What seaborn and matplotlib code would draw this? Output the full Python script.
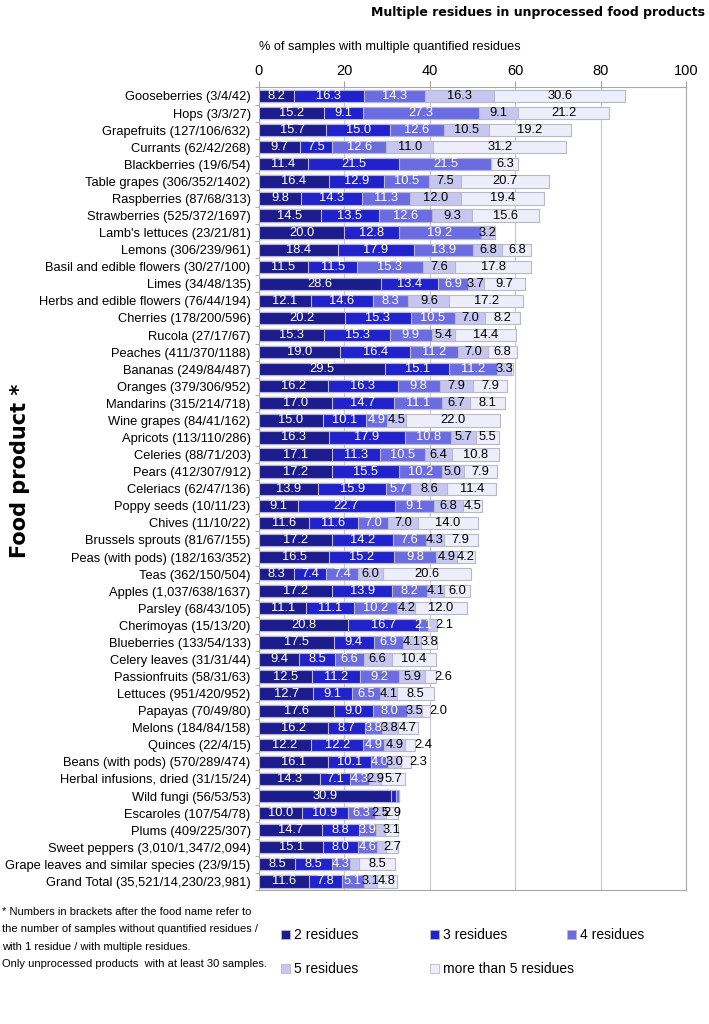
import numpy as np
import pandas as pd
import matplotlib
matplotlib.use("Agg")
import matplotlib.pyplot as plt
from matplotlib.patches import Patch
import seaborn as sns

foods = [
    "Gooseberries (3/4/42)", "Hops (3/3/27)", "Grapefruits (127/106/632)",
    "Currants (62/42/268)", "Blackberries (19/6/54)", "Table grapes (306/352/1402)",
    "Raspberries (87/68/313)", "Strawberries (525/372/1697)", "Lamb's lettuces (23/21/81)",
    "Lemons (306/239/961)", "Basil and edible flowers (30/27/100)", "Limes (34/48/135)",
    "Herbs and edible flowers (76/44/194)", "Cherries (178/200/596)", "Rucola (27/17/67)",
    "Peaches (411/370/1188)", "Bananas (249/84/487)", "Oranges (379/306/952)",
    "Mandarins (315/214/718)", "Wine grapes (84/41/162)", "Apricots (113/110/286)",
    "Celeries (88/71/203)", "Pears (412/307/912)", "Celeriacs (62/47/136)",
    "Poppy seeds (10/11/23)", "Chives (11/10/22)", "Brussels sprouts (81/67/155)",
    "Peas (with pods) (182/163/352)", "Teas (362/150/504)", "Apples (1,037/638/1637)",
    "Parsley (68/43/105)", "Cherimoyas (15/13/20)", "Blueberries (133/54/133)",
    "Celery leaves (31/31/44)", "Passionfruits (58/31/63)", "Lettuces (951/420/952)",
    "Papayas (70/49/80)", "Melons (184/84/158)", "Quinces (22/4/15)",
    "Beans (with pods) (570/289/474)", "Herbal infusions, dried (31/15/24)",
    "Wild fungi (56/53/53)", "Escaroles (107/54/78)", "Plums (409/225/307)",
    "Sweet peppers (3,010/1,347/2,094)", "Grape leaves and similar species (23/9/15)",
    "Grand Total (35,521/14,230/23,981)",
]

res2 = [8.2, 15.2, 15.7, 9.7, 11.4, 16.4, 9.8, 14.5, 20.0, 18.4, 11.5, 28.6, 12.1, 20.2,
        15.3, 19.0, 29.5, 16.2, 17.0, 15.0, 16.3, 17.1, 17.2, 13.9, 9.1, 11.6, 17.2, 16.5,
        8.3, 17.2, 11.1, 20.8, 17.5, 9.4, 12.5, 12.7, 17.6, 16.2, 12.2, 16.1, 14.3, 30.9,
        10.0, 14.7, 15.1, 8.5, 11.6]
res3 = [16.3, 9.1, 15.0, 7.5, 21.5, 12.9, 14.3, 13.5, 12.8, 17.9, 11.5, 13.4, 14.6, 15.3,
        15.3, 16.4, 15.1, 16.3, 14.7, 10.1, 17.9, 11.3, 15.5, 15.9, 22.7, 11.6, 14.2, 15.2,
        7.4, 13.9, 11.1, 16.7, 9.4, 8.5, 11.2, 9.1, 9.0, 8.7, 12.2, 10.1, 7.1, 1.2,
        10.9, 8.8, 8.0, 8.5, 7.8]
res4 = [14.3, 27.3, 12.6, 12.6, 21.5, 10.5, 11.3, 12.6, 19.2, 13.9, 15.3, 6.9, 8.3, 10.5,
        9.9, 11.2, 11.2, 9.8, 11.1, 4.9, 10.8, 10.5, 10.2, 5.7, 9.1, 7.0, 7.6, 9.8,
        7.4, 8.2, 10.2, 2.1, 6.9, 6.6, 9.2, 6.5, 8.0, 3.8, 4.9, 4.0, 4.3, 0.6,
        6.3, 3.9, 4.6, 4.3, 5.1]
res5 = [16.3, 9.1, 10.5, 11.0, 0.0, 7.5, 12.0, 9.3, 3.2, 6.8, 7.6, 3.7, 9.6, 7.0,
        5.4, 7.0, 3.3, 7.9, 6.7, 4.5, 5.7, 6.4, 5.0, 8.6, 6.8, 7.0, 4.3, 4.9,
        6.0, 4.1, 4.2, 2.1, 4.1, 6.6, 5.9, 4.1, 3.5, 3.8, 4.9, 3.0, 2.9, 0.0,
        2.5, 2.1, 2.1, 2.1, 3.1]
res6 = [30.6, 21.2, 19.2, 31.2, 6.3, 20.7, 19.4, 15.6, 0.0, 6.8, 17.8, 9.7, 17.2, 8.2,
        14.4, 6.8, 0.3, 7.9, 8.1, 22.0, 5.5, 10.8, 7.9, 11.4, 4.5, 14.0, 7.9, 4.2,
        20.6, 6.0, 12.0, 0.0, 3.8, 10.4, 2.6, 8.5, 2.0, 4.7, 2.4, 2.3, 5.7, 0.0,
        2.9, 3.1, 2.7, 8.5, 4.8]

series = ["2 residues", "3 residues", "4 residues", "5 residues", "more than 5 residues"]
colors = ["#1c1c8e", "#2222cc", "#6c6ce2", "#c6c6f0", "#eeeefb"]
text_colors = ["white", "white", "white", "black", "black"]
# labels that the original leaves out
hidden = {("Plums (409/225/307)", 3), ("Sweet peppers (3,010/1,347/2,094)", 3),
          ("Grape leaves and similar species (23/9/15)", 3)}

df = pd.DataFrame({"food": foods, series[0]: res2, series[1]: res3, series[2]: res4,
                   series[3]: res5, series[4]: res6})
cum = df[series].cumsum(axis=1)

font = "Liberation Sans"

fig = plt.figure(figsize=(7.09, 10.24), dpi=100)
ax = fig.add_axes([0.3653, 0.1309, 0.6023, 0.7837])

# stacked bars: draw cumulative totals from the outside in
for k in range(len(series) - 1, -1, -1):
    sns.barplot(x=cum[series[k]], y=df["food"], orient="h", color=colors[k],
                saturation=1, width=0.72, edgecolor="#b8b8c8", linewidth=0.8,
                ax=ax, zorder=3)

# value labels
for i, row in df.iterrows():
    start = 0.0
    last = max(k for k in range(5) if row[series[k]] > 0)
    for k in range(5):
        v = row[series[k]]
        if v >= 1.5 and (row["food"], k) not in hidden:
            if k == last and v < 2.7:
                ax.text(start + v - 0.3, i, f"{v:.1f}", ha="left", va="center",
                        fontsize=9.3, color="black", family=font, zorder=5)
            else:
                ax.text(start + v / 2, i, f"{v:.1f}", ha="center", va="center",
                        fontsize=9.3, color=text_colors[k], family=font, zorder=5)
        start += v

ax.set_xlim(0, 100)
ax.set_ylim(len(foods) - 0.5, -0.5)
ax.xaxis.tick_top()
ax.set_xticks([0, 20, 40, 60, 80, 100])
ax.tick_params(axis="x", length=4, color="#a0a0a0", labelsize=10.5, pad=3)
for lab in ax.get_xticklabels():
    lab.set_family(font)
ax.tick_params(axis="y", length=0, labelsize=9.3, pad=6)
for lab in ax.get_yticklabels():
    lab.set_family(font)
ax.set_yticks(np.arange(len(foods) + 1) - 0.5, minor=True)
ax.tick_params(axis="y", which="minor", length=3, color="#a0a0a0")
ax.grid(axis="x", color="#c8c8c8", linewidth=0.8, zorder=0)
ax.set_axisbelow(True)
for sp in ax.spines.values():
    sp.set_color("#a8a8a8")
    sp.set_linewidth(0.8)
ax.set_xlabel("")
ax.set_ylabel("")

fig.text(0.3653, 0.954, "% of samples with multiple quantified residues", ha="left",
         va="center", fontsize=9.2, family=font)
fig.text(0.994, 0.988, "Multiple residues in unprocessed food products", ha="right",
         va="center", fontsize=9, fontweight="bold", family="DejaVu Sans")
fig.text(0.028, 0.54, "Food product *", rotation=90, ha="center", va="center",
         fontsize=15, fontweight="bold", family="DejaVu Sans")

fig.text(0.003, 0.114,
         "* Numbers in brackets after the food name refer to\n"
         "the number of samples without quantified residues /\n"
         "with 1 residue / with multiple residues.\n"
         "Only unprocessed products  with at least 30 samples.",
         ha="left", va="top", fontsize=8.0, family=font, linespacing=1.9)

# legend laid out as three columns, filled row by row like the original
handles = [Patch(facecolor=c, edgecolor="#b8b8c8", linewidth=0.6) for c in colors]
columns = [([0, 3], 0.396), ([1, 4], 0.606), ([2], 0.800)]
for idx, x0 in columns:
    fig.legend([handles[j] for j in idx], [series[j] for j in idx], loc="upper left",
               bbox_to_anchor=(x0, 0.0935), frameon=False,
               prop={"family": font, "size": 10}, handlelength=0.65, handleheight=0.65,
               handletextpad=0.3, labelspacing=1.45, borderpad=0, borderaxespad=0)

fig.savefig("out.png", dpi=100)
